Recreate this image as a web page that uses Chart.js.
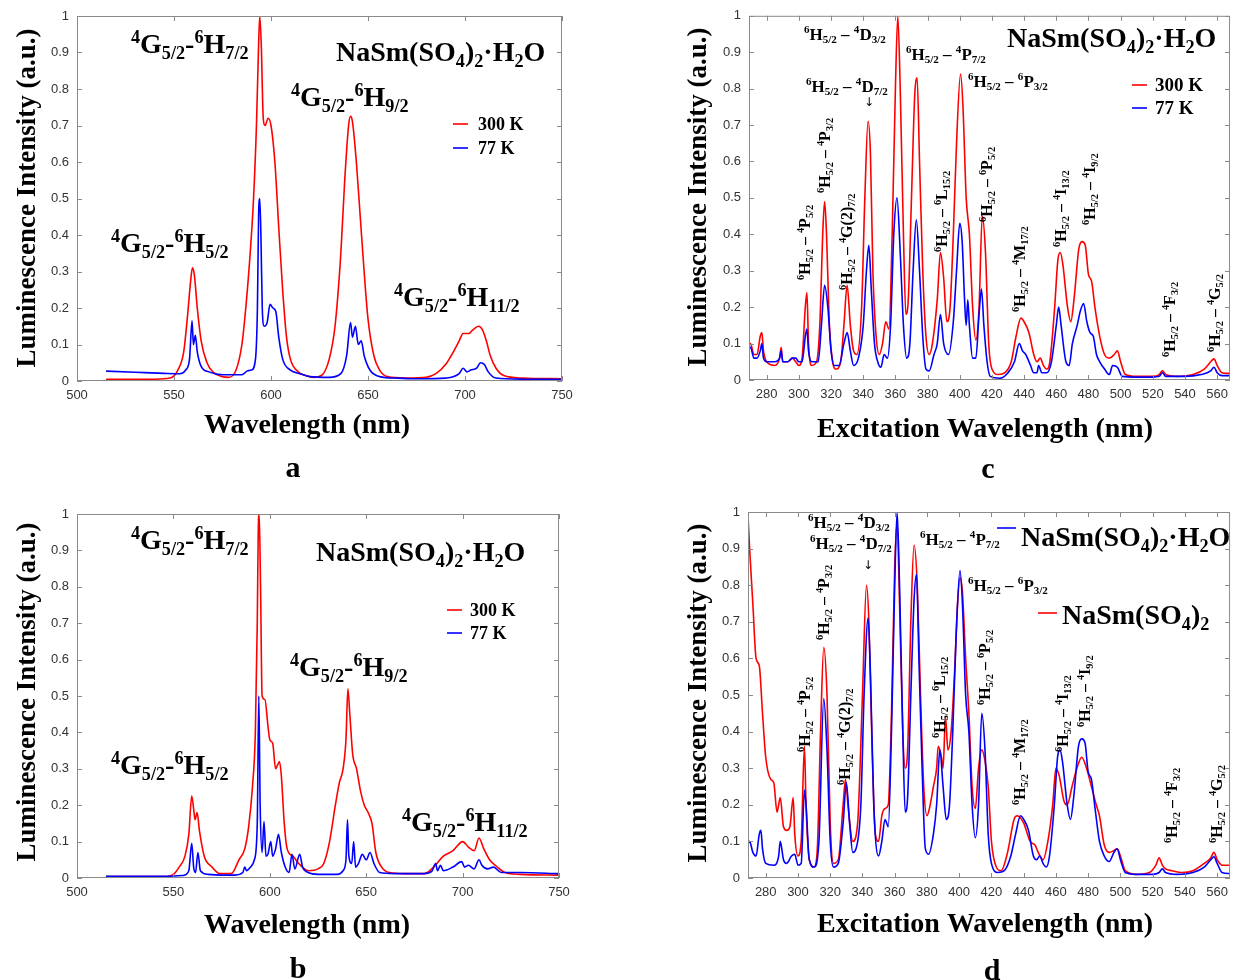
<!DOCTYPE html>
<html>
<head>
<meta charset="utf-8">
<script src="https://cdn.jsdelivr.net/npm/chart.js@4.4.1/dist/chart.umd.min.js"></script>
<style>
body { margin:0; background:#fff; width:1235px; height:980px; position:relative; overflow:hidden; }
canvas { position:absolute; }
</style>
</head>
<body>
<canvas id="pa"></canvas>
<canvas id="pc"></canvas>
<canvas id="pb"></canvas>
<canvas id="pd"></canvas>
<script>
// tick labels
const emisTicks = [500, 550, 600, 650, 700, 750];
const excTicks = [280, 300, 320, 340, 360, 380, 400, 420, 440, 460, 480, 500, 520, 540, 560];
const intTicks = [0, 0.1, 0.2, 0.3, 0.4, 0.5, 0.6, 0.7, 0.8, 0.9, 1];

// (a) emission, NaSm(SO4)2·H2O  [wavelength nm, intensity]
const emisA300 = [[515,0.005],[540,0.005],[548,0.008],[552,0.03],[555,0.08],[557,0.18],[558.5,0.27],[559.5,0.31],[560.5,0.29],[562,0.2],[564,0.11],[567,0.05],[570,0.025],[575,0.012],[578,0.01],[582,0.03],[585,0.1],[587,0.2],[589,0.33],[591,0.5],[592.5,0.7],[593.5,0.9],[594.2,1.0],[595,0.92],[596,0.72],[597,0.7],[598.5,0.72],[600,0.7],[602,0.6],[604,0.42],[606,0.25],[608,0.12],[610,0.06],[614,0.025],[618,0.015],[622,0.01],[626,0.015],[630,0.06],[633,0.15],[636,0.35],[638,0.55],[640,0.7],[641,0.725],[642,0.71],[644,0.6],[646,0.45],[648,0.3],[650,0.17],[653,0.07],[656,0.03],[660,0.012],[670,0.008],[680,0.01],[685,0.02],[690,0.045],[694,0.08],[697,0.11],[699,0.13],[702,0.13],[704,0.14],[707,0.15],[709,0.14],[711,0.11],[713,0.07],[716,0.035],[720,0.015],[730,0.008],[750,0.006]];
const emisA77 = [[515,0.027],[530,0.024],[545,0.021],[553,0.02],[556,0.03],[558,0.06],[559.3,0.165],[560,0.1],[561,0.125],[562,0.08],[564,0.04],[568,0.025],[575,0.017],[585,0.017],[588,0.028],[590,0.03],[592,0.06],[593,0.2],[593.6,0.45],[594.2,0.5],[594.8,0.4],[595.5,0.2],[596.5,0.15],[598,0.16],[599.5,0.21],[601,0.2],[602.5,0.19],[604,0.12],[606,0.06],[610,0.03],[615,0.02],[620,0.012],[630,0.01],[636,0.02],[639,0.07],[641,0.16],[642,0.12],[643.5,0.15],[645,0.1],[646.5,0.11],[648,0.07],[651,0.03],[656,0.012],[665,0.008],[675,0.006],[690,0.008],[697,0.02],[699,0.035],[701,0.025],[703,0.03],[706,0.035],[708,0.05],[710,0.045],[712,0.025],[716,0.008],[730,0.005],[750,0.004]];

// (b) emission, second sample
const emisB300 = [[515,0.004],[545,0.004],[550,0.01],[553,0.03],[556,0.06],[558,0.12],[559.5,0.225],[560.5,0.19],[561.2,0.16],[562.3,0.18],[563.5,0.13],[566,0.06],[570,0.03],[574,0.012],[580,0.012],[584,0.05],[587,0.08],[589,0.14],[591,0.25],[592.5,0.4],[593.5,0.7],[594,0.95],[594.5,1.0],[595.2,0.8],[596,0.5],[597.5,0.49],[599,0.42],[600,0.38],[601.5,0.37],[603,0.3],[604,0.31],[605,0.32],[606,0.28],[607.5,0.15],[609,0.08],[612,0.06],[615,0.04],[620,0.02],[625,0.025],[628,0.04],[631,0.1],[634,0.2],[636,0.26],[638,0.3],[639.5,0.38],[640.5,0.52],[641.5,0.45],[643,0.34],[645,0.3],[647,0.24],[649,0.2],[651,0.18],[653,0.15],[655,0.07],[658,0.03],[662,0.015],[670,0.012],[680,0.012],[685,0.03],[690,0.06],[695,0.075],[700,0.1],[703,0.085],[706,0.075],[708.5,0.11],[711,0.08],[714,0.05],[718,0.03],[722,0.015],[730,0.01],[750,0.008]];
const emisB77 = [[515,0.005],[548,0.005],[555,0.007],[558,0.02],[559.5,0.095],[560.5,0.03],[561.5,0.015],[562.7,0.07],[564,0.02],[568,0.01],[575,0.008],[582,0.008],[586,0.015],[587,0.03],[588,0.02],[590,0.03],[592,0.05],[593.5,0.15],[594.3,0.5],[595,0.2],[596,0.07],[597,0.155],[598,0.06],[599,0.065],[600.5,0.1],[601.5,0.06],[603,0.08],[604.5,0.12],[606,0.07],[608,0.03],[610,0.015],[611.5,0.065],[613,0.025],[615.5,0.065],[617,0.03],[620,0.015],[625,0.01],[635,0.01],[638,0.02],[639.5,0.05],[640.3,0.16],[641,0.06],[642.5,0.04],[643.5,0.1],[644.5,0.03],[646,0.04],[648,0.065],[650,0.05],[652,0.07],[654,0.04],[657,0.015],[665,0.012],[680,0.012],[684,0.018],[686,0.04],[687,0.02],[688.5,0.035],[690,0.02],[695,0.03],[699.5,0.045],[701,0.03],[703,0.035],[706,0.025],[708.5,0.05],[710,0.035],[713,0.025],[716,0.03],[720,0.015],[730,0.015],[750,0.012]];

// (c) excitation, NaSm(SO4)2·H2O
const excC300 = [[268,0.09],[270,0.1],[272,0.07],[274,0.07],[276,0.12],[277,0.13],[278,0.08],[280,0.05],[285,0.04],[288,0.06],[289,0.09],[290,0.05],[293,0.05],[296,0.06],[298,0.05],[300,0.04],[302,0.06],[304,0.2],[305,0.24],[306,0.1],[308,0.04],[311,0.05],[313,0.15],[315,0.42],[316,0.49],[317,0.42],[319,0.15],[321,0.05],[323,0.03],[326,0.05],[328,0.15],[330,0.26],[332,0.15],[334,0.08],[336,0.07],[339,0.2],[341,0.5],[343,0.71],[344.5,0.62],[346,0.3],[348,0.12],[350,0.07],[352,0.1],[354,0.16],[356,0.14],[358,0.4],[360,0.8],[361.5,1.0],[363,0.8],[365,0.4],[366.5,0.18],[368,0.22],[370,0.5],[372,0.78],[373.5,0.83],[375,0.6],[377,0.3],[379,0.12],[381,0.07],[383,0.1],[386,0.22],[388,0.35],[390,0.28],[392,0.16],[394,0.2],[396,0.4],[398,0.65],[400.5,0.84],[402,0.75],[404,0.5],[406,0.4],[408,0.2],[410,0.11],[412,0.2],[414,0.45],[416,0.35],[418,0.1],[420,0.03],[424,0.015],[428,0.02],[432,0.05],[435,0.12],[438,0.17],[440,0.16],[443,0.13],[446,0.07],[448,0.05],[450,0.06],[452,0.04],[454,0.03],[456,0.05],[459,0.2],[461,0.33],[462.5,0.35],[464,0.32],[467,0.2],[469,0.16],[471,0.22],[474,0.36],[476,0.38],[478,0.37],[480,0.29],[482,0.27],[484,0.2],[487,0.12],[490,0.07],[493,0.06],[496,0.07],[498,0.08],[500,0.05],[503,0.015],[510,0.01],[520,0.01],[524,0.015],[526,0.025],[528,0.015],[535,0.01],[545,0.015],[552,0.03],[556,0.05],[558,0.058],[560,0.04],[563,0.02],[568,0.018]];
const excC77 = [[268,0.08],[270,0.09],[272,0.06],[274,0.06],[276,0.08],[277,0.1],[278,0.06],[280,0.05],[285,0.05],[288,0.06],[289,0.08],[290,0.05],[293,0.05],[296,0.06],[298,0.06],[300,0.05],[302,0.05],[304,0.12],[305,0.14],[306,0.08],[308,0.05],[312,0.05],[314,0.15],[316,0.26],[318,0.2],[320,0.08],[322,0.04],[325,0.04],[328,0.1],[330,0.13],[332,0.08],[334,0.04],[337,0.06],[340,0.15],[342,0.3],[343.5,0.37],[345,0.25],[347,0.1],[349,0.05],[351,0.035],[353,0.07],[355,0.06],[357,0.15],[359,0.4],[361,0.5],[363,0.35],[365,0.15],[367,0.06],[369,0.1],[371,0.3],[373,0.44],[375,0.3],[377,0.12],[379,0.03],[381,0.025],[384,0.07],[386,0.1],[388,0.18],[390,0.1],[393,0.07],[396,0.16],[398,0.3],[400,0.43],[401.5,0.38],[403,0.22],[404,0.15],[405,0.22],[406,0.15],[408,0.06],[410,0.06],[412,0.18],[413.5,0.25],[415,0.15],[417,0.05],[419,0.01],[425,0.005],[430,0.02],[434,0.05],[437,0.1],[439,0.08],[441,0.07],[444,0.04],[446,0.02],[448,0.02],[449,0.04],[451,0.02],[454,0.02],[457,0.05],[460,0.15],[461.5,0.2],[463,0.15],[466,0.05],[468,0.04],[470,0.1],[473,0.15],[475,0.19],[477,0.21],[479,0.16],[481,0.13],[483,0.12],[485,0.07],[487,0.05],[490,0.03],[493,0.015],[495,0.04],[498,0.035],[501,0.01],[510,0.008],[520,0.008],[524,0.01],[526,0.02],[528,0.01],[540,0.01],[550,0.015],[556,0.025],[558,0.035],[560,0.02],[563,0.012],[568,0.012]];

// (d) excitation, hydrate vs anhydrous
const excDHyd = [[268,0.08],[270,0.1],[272,0.07],[274,0.06],[276,0.12],[277,0.13],[278,0.08],[280,0.04],[285,0.035],[288,0.06],[289,0.1],[291,0.05],[293,0.04],[296,0.06],[298,0.065],[300,0.035],[302,0.04],[304,0.24],[305,0.2],[307,0.05],[310,0.03],[313,0.1],[316,0.49],[318,0.35],[320,0.1],[322,0.03],[325,0.04],[328,0.15],[330,0.26],[332,0.15],[334,0.07],[336,0.08],[339,0.2],[341,0.5],[343.5,0.71],[345,0.55],[347,0.2],[350,0.06],[352,0.1],[354,0.16],[356,0.14],[358,0.4],[360,0.8],[361.5,1.0],[363,0.8],[365,0.4],[366.5,0.18],[368,0.22],[370,0.5],[372,0.76],[373.5,0.83],[375,0.6],[377,0.3],[379,0.08],[381,0.065],[384,0.12],[386,0.2],[388,0.35],[390,0.25],[392,0.16],[394,0.2],[396,0.4],[398,0.65],[400.5,0.84],[402,0.75],[404,0.5],[406,0.4],[408,0.2],[410,0.11],[412,0.2],[414,0.45],[416,0.35],[418,0.12],[420,0.04],[424,0.015],[428,0.02],[432,0.06],[435,0.12],[438,0.17],[440,0.16],[443,0.13],[446,0.06],[448,0.05],[450,0.06],[452,0.04],[454,0.03],[456,0.06],[459,0.2],[461,0.33],[462.5,0.35],[464,0.32],[467,0.2],[469,0.16],[471,0.22],[474,0.36],[476,0.38],[478,0.37],[480,0.29],[482,0.27],[484,0.2],[487,0.1],[490,0.06],[493,0.045],[496,0.07],[498,0.08],[500,0.05],[503,0.015],[510,0.01],[520,0.01],[524,0.015],[526,0.025],[528,0.015],[535,0.01],[545,0.015],[552,0.03],[556,0.05],[558,0.058],[560,0.04],[563,0.015],[568,0.012]];
const excDAnh = [[269,0.99],[270,0.9],[272,0.75],[274,0.6],[276,0.58],[278,0.45],[280,0.33],[283,0.27],[285,0.26],[287,0.18],[289,0.22],[291,0.14],[293,0.13],[295,0.14],[297,0.22],[298,0.12],[300,0.06],[302,0.1],[304,0.36],[305,0.2],[307,0.05],[310,0.03],[312,0.08],[314,0.4],[316,0.63],[318,0.5],[320,0.15],[322,0.04],[325,0.05],[328,0.2],[329.5,0.27],[331,0.2],[334,0.1],[337,0.15],[340,0.5],[342.5,0.8],[344,0.7],[346,0.35],[348,0.12],[350,0.1],[352,0.17],[354,0.19],[356,0.2],[358,0.45],[360,0.85],[361.5,0.97],[363,0.75],[365,0.4],[366.5,0.3],[368,0.35],[370,0.7],[372,0.91],[374,0.8],[376,0.5],[378,0.25],[380,0.17],[382,0.2],[384,0.25],[386,0.3],[387,0.36],[389,0.33],[390,0.3],[391.5,0.44],[393,0.35],[395,0.4],[397,0.55],[399,0.75],[400.5,0.82],[402,0.78],[404,0.6],[406,0.45],[408,0.25],[410,0.19],[412,0.3],[414,0.35],[416,0.32],[418,0.25],[420,0.1],[423,0.03],[426,0.02],[430,0.07],[434,0.16],[436,0.17],[440,0.15],[444,0.1],[447,0.09],[449,0.07],[452,0.05],[455,0.1],[458,0.2],[460,0.3],[462,0.28],[465,0.21],[467,0.2],[470,0.25],[473,0.3],[476,0.33],[479,0.3],[482,0.25],[485,0.2],[487,0.17],[490,0.09],[493,0.07],[496,0.075],[498,0.08],[500,0.06],[503,0.02],[510,0.01],[518,0.015],[522,0.035],[524,0.055],[526,0.035],[528,0.025],[532,0.02],[538,0.015],[545,0.02],[552,0.04],[556,0.055],[558,0.07],[560,0.05],[563,0.035],[568,0.035]];

const RED = "#ff0000";
const BLUE = "#0000ff";
const SERIF = '"Liberation Serif", "Times New Roman", serif';

// rich text: ^{..} superscript, _{..} subscript
function parseRich(s) {
    const out = [];
    const re = /([\^_])\{([^}]*)\}|([^\^_]+)/g;
    let m;
    while ((m = re.exec(s))) {
        if (m[3]) out.push({ t: m[3], k: 0 });
        else out.push({ t: m[2], k: m[1] === "^" ? 1 : -1 });
    }
    return out;
}

function drawRich(ctx, t) {
    const size = t.size;
    const segs = parseRich(t.s);
    ctx.save();
    ctx.fillStyle = "#000";
    ctx.textBaseline = "alphabetic";
    ctx.textAlign = "left";
    let w = 0;
    segs.forEach(g => {
        ctx.font = "bold " + (g.k ? size * 0.65 : size) + "px " + SERIF;
        g.w = ctx.measureText(g.t).width;
        w += g.w;
    });
    ctx.translate(t.x, t.y);
    if (t.rot) ctx.rotate(-Math.PI / 2);
    let cx = t.center ? -w / 2 : 0;
    const base = size * 0.33;
    segs.forEach(g => {
        ctx.font = "bold " + (g.k ? size * 0.65 : size) + "px " + SERIF;
        const dy = g.k === 1 ? -size * 0.38 : g.k === -1 ? size * 0.2 : 0;
        ctx.fillText(g.t, cx, base + dy);
        cx += g.w;
    });
    ctx.restore();
}

function makePanel(p) {

    const cv = document.getElementById(p.id);
    cv.width = p.cw;
    cv.height = p.ch;
    cv.style.left = p.cl + "px";
    cv.style.top = p.ct + "px";

    const deco = {
        id: "deco",
        afterDatasetsDraw(chart) {
            const ctx = chart.ctx;
            const a = chart.chartArea;
            const xs = chart.scales.x;
            const ys = chart.scales.y;
            ctx.save();
            ctx.strokeStyle = "#8a8a8a";
            ctx.lineWidth = 1;
            ctx.strokeRect(a.left + 0.5, a.top + 0.5, a.right - a.left - 1, a.bottom - a.top - 1);
            ctx.beginPath();
            xs.ticks.forEach(tk => {
                const px = Math.round(xs.getPixelForValue(tk.value)) + 0.5;
                ctx.moveTo(px, a.bottom); ctx.lineTo(px, a.bottom - 5);
                ctx.moveTo(px, a.top); ctx.lineTo(px, a.top + 5);
            });
            ys.ticks.forEach(tk => {
                const py = Math.round(ys.getPixelForValue(tk.value)) + 0.5;
                ctx.moveTo(a.left, py); ctx.lineTo(a.left + 5, py);
                ctx.moveTo(a.right, py); ctx.lineTo(a.right - 5, py);
            });
            ctx.stroke();
            ctx.restore();
        },
        afterDraw(chart) {
            const ctx = chart.ctx;
            ctx.save();
            ctx.translate(-p.cl, -p.ct);
            p.keys.forEach(k => {
                ctx.strokeStyle = k.color;
                ctx.lineWidth = 1.6;
                ctx.beginPath();
                ctx.moveTo(k.x1, k.y);
                ctx.lineTo(k.x2, k.y);
                ctx.stroke();
            });
            p.texts.forEach(t => drawRich(ctx, t));
            p.arrows.forEach(ar => {
                ctx.font = "12px \"DejaVu Sans\"";
                ctx.fillStyle = "#000";
                ctx.textAlign = "center";
                ctx.textBaseline = "middle";
                ctx.fillText("\u2193", ar.x, ar.y);
            });
            ctx.restore();
        }
    };

    new Chart(cv, {
        type: "line",
        data: {
            datasets: p.series.map(s => ({
                data: s.pts.map(v => ({ x: v[0], y: v[1] })),
                borderColor: s.color,
                borderWidth: 1.6,
                pointRadius: 0,
                fill: false,
                cubicInterpolationMode: "monotone"
            }))
        },
        options: {
            responsive: false,
            animation: false,
            layout: { padding: { top: p.pt - p.ct, right: p.cl + p.cw - p.pr, left: 0, bottom: 0 } },
            plugins: { legend: { display: false }, tooltip: { enabled: false } },
            scales: {
                x: {
                    type: "linear",
                    min: p.xmin,
                    max: p.xmax,
                    afterBuildTicks: s => { s.ticks = p.xticks.map(v => ({ value: v })); },
                    afterFit: s => { s.height = p.ct + p.ch - p.pb; },
                    grid: { display: false, drawTicks: false },
                    border: { display: false },
                    ticks: { padding: 7, autoSkip: false, maxRotation: 0, color: "#333",
                             font: { family: "Liberation Sans", size: 13 } }
                },
                y: {
                    type: "linear",
                    min: 0,
                    max: 1,
                    afterBuildTicks: s => { s.ticks = intTicks.map(v => ({ value: v })); },
                    afterFit: s => { s.width = p.pl - p.cl; },
                    grid: { display: false, drawTicks: false },
                    border: { display: false },
                    ticks: { padding: 8, color: "#333", font: { family: "Liberation Sans", size: 13 },
                             callback: v => String(Math.round(v * 10) / 10) }
                }
            }
        },
        plugins: [deco]
    });
}

const yTitle = "Luminescence Intensity (a.u.)";
const hyd = "NaSm(SO_{4})_{2}\u00B7H_{2}O";
const tr = (a, b) => "^{6}H_{5/2} \u2013 " + a + b;

makePanel({
    id: "pa", cl: 0, ct: 0, cw: 617, ch: 490,
    pl: 77, pt: 16, pr: 562, pb: 381,
    xmin: 500, xmax: 750, xticks: emisTicks,
    series: [{ pts: emisA77, color: BLUE }, { pts: emisA300, color: RED }],
    keys: [{ x1: 453, x2: 468, y: 124, color: RED }, { x1: 453, x2: 468, y: 148, color: BLUE }],
    arrows: [],
    texts: [
        { s: "^{4}G_{5/2}-^{6}H_{7/2}", x: 131, y: 44, size: 28 },
        { s: hyd, x: 336, y: 52, size: 28 },
        { s: "^{4}G_{5/2}-^{6}H_{9/2}", x: 291, y: 97, size: 28 },
        { s: "^{4}G_{5/2}-^{6}H_{5/2}", x: 111, y: 243, size: 28 },
        { s: "^{4}G_{5/2}-^{6}H_{11/2}", x: 394, y: 297, size: 28 },
        { s: "300 K", x: 478, y: 124, size: 18 },
        { s: "77 K", x: 478, y: 148, size: 18 },
        { s: yTitle, x: 26, y: 198, size: 27, rot: true, center: true },
        { s: "Wavelength (nm)", x: 307, y: 424, size: 28, center: true },
        { s: "a", x: 293, y: 467, size: 30, center: true }
    ]
});

makePanel({
    id: "pb", cl: 0, ct: 490, cw: 617, ch: 490,
    pl: 77, pt: 514, pr: 559, pb: 878,
    xmin: 500, xmax: 750, xticks: emisTicks,
    series: [{ pts: emisB77, color: BLUE }, { pts: emisB300, color: RED }],
    keys: [{ x1: 447, x2: 462, y: 610, color: RED }, { x1: 447, x2: 462, y: 633, color: BLUE }],
    arrows: [],
    texts: [
        { s: "^{4}G_{5/2}-^{6}H_{7/2}", x: 131, y: 540, size: 28 },
        { s: hyd, x: 316, y: 552, size: 28 },
        { s: "^{4}G_{5/2}-^{6}H_{9/2}", x: 290, y: 667, size: 28 },
        { s: "^{4}G_{5/2}-^{6}H_{5/2}", x: 111, y: 765, size: 28 },
        { s: "^{4}G_{5/2}-^{6}H_{11/2}", x: 402, y: 822, size: 28 },
        { s: "300 K", x: 470, y: 610, size: 18 },
        { s: "77 K", x: 470, y: 633, size: 18 },
        { s: yTitle, x: 26, y: 692, size: 27, rot: true, center: true },
        { s: "Wavelength (nm)", x: 307, y: 924, size: 28, center: true },
        { s: "b", x: 298, y: 968, size: 30, center: true }
    ]
});

makePanel({
    id: "pc", cl: 617, ct: 0, cw: 618, ch: 490,
    pl: 749, pt: 13, pr: 1235, pb: 380,
    xmin: 269, xmax: 568, xticks: excTicks,
    series: [{ pts: excC77, color: BLUE }, { pts: excC300, color: RED }],
    keys: [{ x1: 1132, x2: 1147, y: 85, color: RED }, { x1: 1132, x2: 1147, y: 108, color: BLUE }],
    arrows: [{ x: 869, y: 103 }],
    texts: [
        { s: tr("^{4}D", "_{3/2}"), x: 804, y: 34, size: 17 },
        { s: tr("^{4}D", "_{7/2}"), x: 806, y: 86, size: 17 },
        { s: tr("^{4}P", "_{7/2}"), x: 906, y: 54, size: 17 },
        { s: tr("^{6}P", "_{3/2}"), x: 968, y: 81, size: 17 },
        { s: tr("^{4}P", "_{5/2}"), x: 805, y: 280, size: 16, rot: true },
        { s: tr("^{4}P", "_{3/2}"), x: 825, y: 193, size: 16, rot: true },
        { s: tr("^{4}G", "(2)_{7/2}"), x: 847, y: 290, size: 16, rot: true },
        { s: tr("^{6}L", "_{15/2}"), x: 942, y: 252, size: 16, rot: true },
        { s: tr("^{6}P", "_{5/2}"), x: 987, y: 222, size: 16, rot: true },
        { s: tr("^{4}M", "_{17/2}"), x: 1020, y: 312, size: 16, rot: true },
        { s: tr("^{4}I", "_{13/2}"), x: 1061, y: 247, size: 16, rot: true },
        { s: tr("^{4}I", "_{9/2}"), x: 1090, y: 225, size: 16, rot: true },
        { s: tr("^{4}F", "_{3/2}"), x: 1170, y: 357, size: 16, rot: true },
        { s: tr("^{4}G", "_{5/2}"), x: 1215, y: 352, size: 16, rot: true },
        { s: hyd, x: 1007, y: 38, size: 28 },
        { s: "300 K", x: 1155, y: 85, size: 19 },
        { s: "77 K", x: 1155, y: 108, size: 19 },
        { s: yTitle, x: 697, y: 197, size: 27, rot: true, center: true },
        { s: "Excitation Wavelength (nm)", x: 985, y: 428, size: 28, center: true },
        { s: "c", x: 988, y: 468, size: 30, center: true }
    ]
});

makePanel({
    id: "pd", cl: 617, ct: 490, cw: 618, ch: 490,
    pl: 748, pt: 512, pr: 1235, pb: 878,
    xmin: 269, xmax: 568, xticks: excTicks,
    series: [{ pts: excDHyd, color: BLUE }, { pts: excDAnh, color: RED }],
    keys: [{ x1: 997, x2: 1016, y: 528, color: BLUE }, { x1: 1038, x2: 1057, y: 613, color: RED }],
    arrows: [{ x: 868, y: 566 }],
    texts: [
        { s: tr("^{4}D", "_{3/2}"), x: 808, y: 522, size: 17 },
        { s: tr("^{4}D", "_{7/2}"), x: 810, y: 543, size: 17 },
        { s: tr("^{4}P", "_{7/2}"), x: 920, y: 539, size: 17 },
        { s: tr("^{6}P", "_{3/2}"), x: 968, y: 585, size: 17 },
        { s: tr("^{4}P", "_{5/2}"), x: 805, y: 752, size: 16, rot: true },
        { s: tr("^{4}P", "_{3/2}"), x: 824, y: 640, size: 16, rot: true },
        { s: tr("^{4}G", "(2)_{7/2}"), x: 845, y: 785, size: 16, rot: true },
        { s: tr("^{6}L", "_{15/2}"), x: 940, y: 738, size: 16, rot: true },
        { s: tr("^{6}P", "_{5/2}"), x: 985, y: 705, size: 16, rot: true },
        { s: tr("^{4}M", "_{17/2}"), x: 1020, y: 805, size: 16, rot: true },
        { s: tr("^{4}I", "_{13/2}"), x: 1063, y: 752, size: 16, rot: true },
        { s: tr("^{4}I", "_{9/2}"), x: 1085, y: 727, size: 16, rot: true },
        { s: tr("^{4}F", "_{3/2}"), x: 1172, y: 843, size: 16, rot: true },
        { s: tr("^{4}G", "_{5/2}"), x: 1217, y: 843, size: 16, rot: true },
        { s: hyd, x: 1021, y: 537, size: 28 },
        { s: "NaSm(SO_{4})_{2}", x: 1062, y: 615, size: 28 },
        { s: yTitle, x: 697, y: 693, size: 27, rot: true, center: true },
        { s: "Excitation Wavelength (nm)", x: 985, y: 923, size: 28, center: true },
        { s: "d", x: 992, y: 970, size: 30, center: true }
    ]
});
</script>
</body>
</html>
